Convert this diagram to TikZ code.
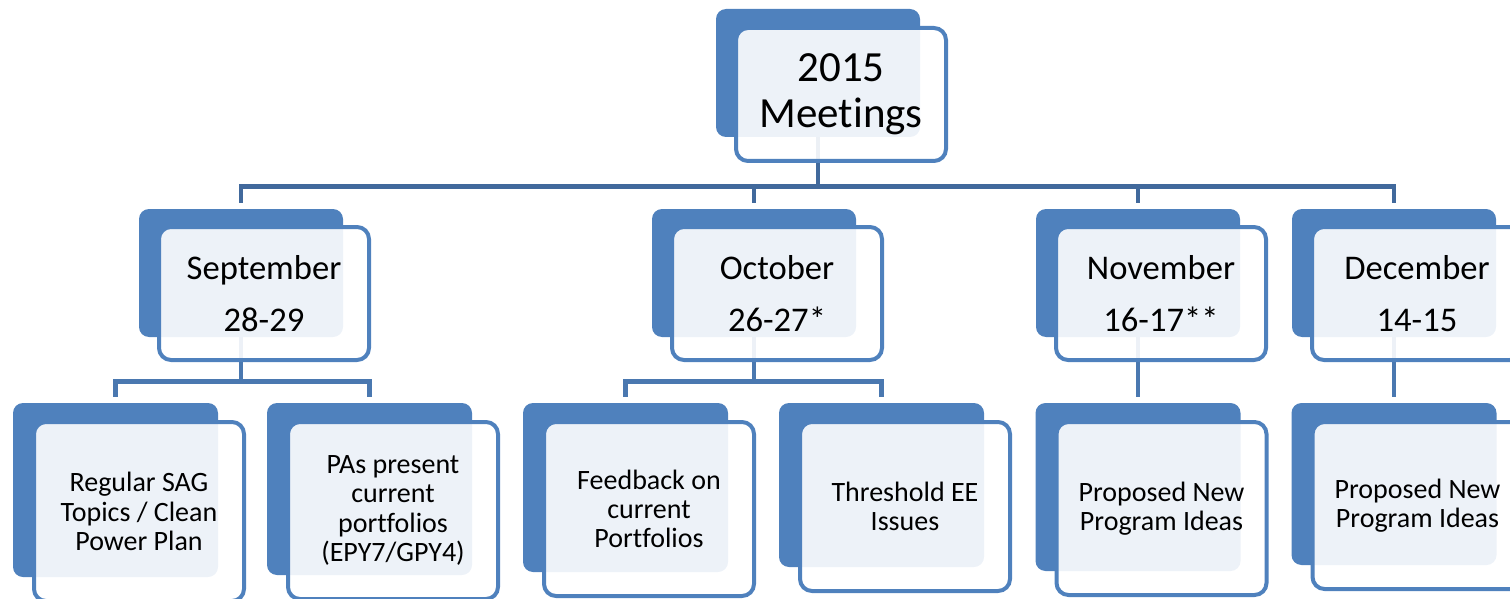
\documentclass[tikz,border=0pt]{standalone}
\usepackage{fontspec}
\setmainfont{Carlito}[Ligatures={NoCommon}]
\usetikzlibrary{calc,backgrounds}
\definecolor{accent}{HTML}{4F81BD}
\definecolor{linedark}{HTML}{41699C}
\definecolor{linemid}{HTML}{4A78B0}
\begin{document}
\begin{tikzpicture}[x=0.5pt,y=-0.5pt,
  backbox/.style={rectangle, rounded corners=5pt, fill=accent, inner sep=0pt},
  frontbox/.style={rectangle, rounded corners=6pt, draw=accent, line width=2pt, fill=white, fill opacity=0.9, text opacity=1, inner sep=0pt, align=center, text=black, minimum width=105pt},
  toptext/.style={font=\fontsize{21.5}{22.8}\selectfont},
  monthtext/.style={font=\fontsize{17.3}{26}\selectfont},
  childtext/.style={font=\fontsize{14}{14.6}\selectfont},
  conn1/.style={draw=linedark, line width=2.25pt},
  conn2/.style={draw=linemid, line width=2.25pt}]
\useasboundingbox (0,0) rectangle (1510,599);
\clip (0,0) rectangle (1510,599);

% top
\node[backbox, minimum width=102pt, minimum height=64pt] (bT) at (818,73) {};
\node[frontbox, toptext, minimum height=66.5pt] (fT) at (841,94.5) {2015\\Meetings};

% months
\node[backbox, minimum width=102pt, minimum height=64pt] (bS) at (241,273) {};
\node[frontbox, monthtext, minimum height=66.5pt] (fS) at (264,293.5) {September\\28-29};
\node[backbox, minimum width=102pt, minimum height=64pt] (bO) at (754,273) {};
\node[frontbox, monthtext, minimum height=66.5pt] (fO) at (777,293.5) {October\\26-27*};
\node[backbox, minimum width=102pt, minimum height=64pt] (bN) at (1138,273) {};
\node[frontbox, monthtext, minimum height=66.5pt] (fN) at (1161,293.5) {November\\16-17**};
\node[backbox, minimum width=102pt, minimum height=64pt] (bD) at (1394,273) {};
\node[frontbox, monthtext, minimum height=66.5pt] (fD) at (1417,293.5) {December\\14-15};

% children
\node[backbox, minimum width=102.5pt, minimum height=87pt] (cSAG) at (115.5,490) {};
\node[frontbox, childtext, minimum height=89.5pt] (gSAG) at (139,511.5) {Regular SAG\\Topics / Clean\\Power Plan};
\node[backbox, minimum width=102.5pt, minimum height=86pt] (cPA) at (369.5,489) {};
\node[frontbox, childtext, minimum height=88.5pt] (gPA) at (393,510.5) {PAs present\\current\\portfolios\\(EPY7/GPY4)};
\node[backbox, minimum width=102.5pt, minimum height=84.5pt] (cFB) at (625.5,487.5) {};
\node[frontbox, childtext, minimum height=87pt] (gFB) at (649,509) {Feedback on\\current\\Portfolios};
\node[backbox, minimum width=102.5pt, minimum height=82pt] (cTH) at (881.5,485) {};
\node[frontbox, childtext, minimum height=84.5pt] (gTH) at (905,506.5) {Threshold EE\\Issues};
\node[backbox, minimum width=102.5pt, minimum height=84pt] (cPN) at (1138,487) {};
\node[frontbox, childtext, minimum height=86.5pt] (gPN) at (1161.5,508.5) {Proposed New\\Program Ideas};
\node[backbox, minimum width=102.5pt, minimum height=81pt] (cPD) at (1394,484) {};
\node[frontbox, childtext, minimum height=83.5pt] (gPD) at (1417.5,505.5) {Proposed New\\Program Ideas};

\begin{scope}[on background layer]
  \coordinate (jT) at ($(bT.south)+(0,49)$);
  \draw[conn1] (bT.south) -- (jT);
  \draw[conn1] ([yshift=3pt]bS.north) -- (bS.north |- jT) -- (bD.north |- jT) -- ([yshift=3pt]bD.north);
  \draw[conn1] (bO.north |- jT) -- ([yshift=3pt]bO.north);
  \draw[conn1] (bN.north |- jT) -- ([yshift=3pt]bN.north);

  \coordinate (jS) at ($(bS.south)+(0,44)$);
  \draw[conn2] (bS.south) -- (jS);
  \draw[conn2] ([yshift=3pt]cSAG.north) -- (cSAG.north |- jS) -- (cPA.north |- jS) -- ([yshift=3pt]cPA.north);

  \coordinate (jO) at ($(bO.south)+(0,44)$);
  \draw[conn2] (bO.south) -- (jO);
  \draw[conn2] ([yshift=3pt]cFB.north) -- (cFB.north |- jO) -- (cTH.north |- jO) -- ([yshift=3pt]cTH.north);

  \draw[conn2] (bN.south) -- ([yshift=3pt]cPN.north);
  \draw[conn2] (bD.south) -- ([yshift=3pt]cPD.north);
\end{scope}
\end{tikzpicture}
\end{document}
